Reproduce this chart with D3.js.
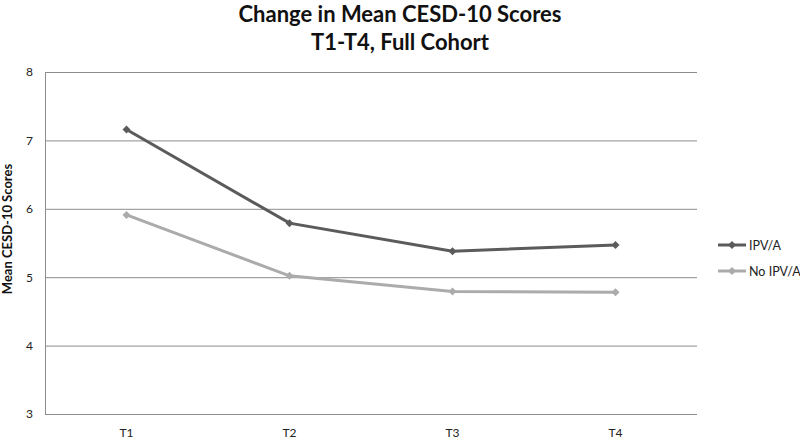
<!DOCTYPE html>
<html><head><meta charset="utf-8">
<script src="https://cdn.jsdelivr.net/npm/d3@7"></script>
<style>body{margin:0;background:#fff}svg{display:block}text{font-family:Lato,"Open Sans",sans-serif}</style>
</head><body><svg id="c" width="800" height="441"></svg>
<script>
const categories = ["T1","T2","T3","T4"];
const seriesNames = ["IPV/A","No IPV/A"];
const ipvA = [7.16, 5.79, 5.38, 5.47];
const noIpvA = [5.91, 5.02, 4.79, 4.78];
const yTicks = [3,4,5,6,7,8];
const colors = ["#5b5b5b","#ababab"];

const svg = d3.select("#c");
const L=45, R=697, T=72, B=414;
const x = d3.scaleBand().domain(categories).range([L,R]);
const y = d3.scaleLinear().domain([3,8]).range([B,T]);

svg.append("g").selectAll("line").data(yTicks).join("line")
  .attr("x1",L).attr("x2",R).attr("y1",d=>y(d)+0.5).attr("y2",d=>y(d)+0.5)
  .attr("stroke","#8c8c8c").attr("stroke-width",1);
svg.append("line").attr("x1",L+0.5).attr("x2",L+0.5).attr("y1",T).attr("y2",B)
  .attr("stroke","#8c8c8c");

const yAxis = d3.axisLeft(y).tickValues(yTicks).tickFormat(d3.format("d")).tickSize(0).tickPadding(12);
const gy = svg.append("g").attr("transform",`translate(${L},0)`).call(yAxis);
gy.select(".domain").remove();
gy.selectAll("text").attr("font-size",12).attr("fill","#222").attr("font-family","Lato,sans-serif");

const xAxis = d3.axisBottom(x).tickSize(0).tickPadding(14);
const gx = svg.append("g").attr("transform",`translate(0,${B})`).call(xAxis);
gx.select(".domain").remove();
gx.selectAll("text").attr("font-size",12).attr("fill","#222").attr("font-family","Lato,sans-serif");

const data = [ipvA, noIpvA];
const cx = c => x(c)+x.bandwidth()/2;
const line = d3.line().x((d,i)=>cx(categories[i])).y(d=>y(d));
const diamond = d3.symbol().type(d3.symbolSquare).size(32);
data.forEach((vals,s)=>{
  svg.append("path").attr("d",line(vals)).attr("fill","none")
    .attr("stroke",colors[s]).attr("stroke-width",3);
  svg.append("g").selectAll("path").data(vals).join("path")
    .attr("d",diamond).attr("fill",colors[s])
    .attr("transform",(d,i)=>`translate(${cx(categories[i])},${y(d)}) rotate(45)`);
});

// legend
const lg = svg.append("g");
seriesNames.forEach((n,i)=>{
  const yy = 245 + i*26;
  lg.append("line").attr("x1",718).attr("x2",746).attr("y1",yy).attr("y2",yy)
    .attr("stroke",colors[i]).attr("stroke-width",3);
  lg.append("path").attr("d",diamond).attr("fill",colors[i]).attr("transform",`translate(732,${yy}) rotate(45)`);
  lg.append("text").attr("x",749).attr("y",yy+4.5).attr("font-size",12.5).attr("fill","#222").text(n);
});

svg.append("text").attr("x",400).attr("y",22).attr("text-anchor","middle")
  .attr("font-size",22).attr("font-weight","bold").attr("fill","#111").text("Change in Mean CESD-10 Scores");
svg.append("text").attr("x",400).attr("y",50).attr("text-anchor","middle")
  .attr("font-size",22).attr("font-weight","bold").attr("fill","#111").text("T1-T4, Full Cohort");
svg.append("text").attr("transform","translate(12,229) rotate(-90)").attr("text-anchor","middle")
  .attr("font-size",13).attr("font-weight","bold").attr("fill","#111").text("Mean CESD-10 Scores");
</script></body></html>
